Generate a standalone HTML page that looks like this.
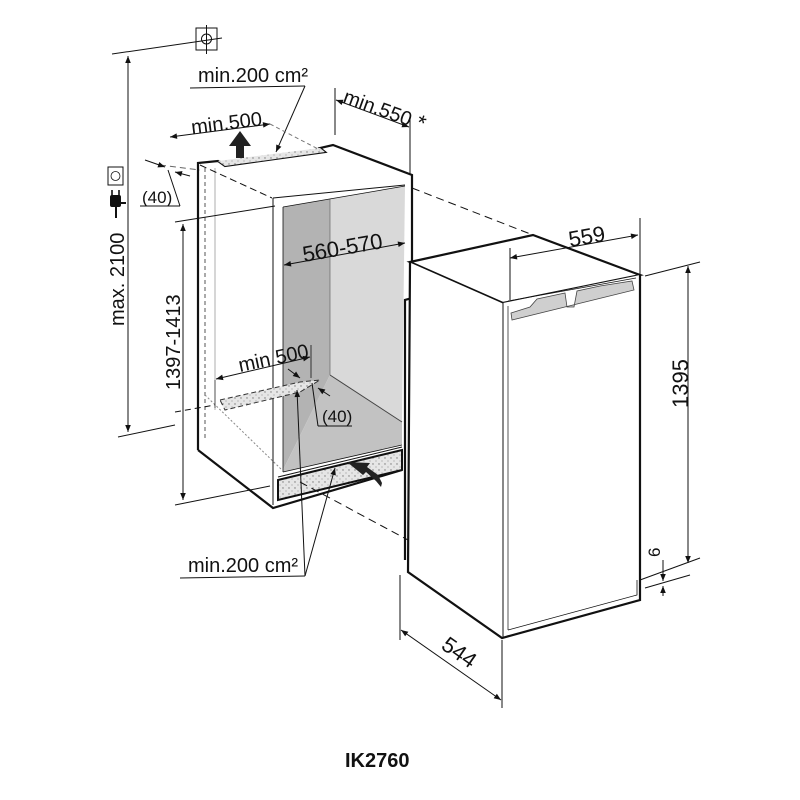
<!DOCTYPE html>
<html><head><meta charset="utf-8"><style>
html,body{margin:0;padding:0;background:#fff}
svg{display:block}
text{font-family:"Liberation Sans",Arial,sans-serif;fill:#111}
</style></head><body>
<svg width="800" height="800" viewBox="0 0 800 800" xmlns="http://www.w3.org/2000/svg">
<defs>
<marker id="a" viewBox="0 0 10 10" refX="10" refY="5" markerWidth="10" markerHeight="7" orient="auto-start-reverse" markerUnits="userSpaceOnUse"><path d="M0,1 L10,5 L0,9 z" fill="#111"/></marker>
<pattern id="dots" width="6" height="6" patternUnits="userSpaceOnUse"><rect width="6" height="6" fill="#e6e6e6"/><circle cx="1" cy="2" r="0.7" fill="#777"/><circle cx="4" cy="5" r="0.6" fill="#999"/></pattern>
</defs>
<g stroke="#111" fill="none" stroke-width="1">
<polygon points="283,207 330,199 330,375 283,470" fill="#b3b3b3" stroke="none"/>
<polygon points="330,199 405,186 402,422 330,375" fill="#d9d9d9" stroke="none"/>
<polygon points="283,470 330,375 402,422 402,445 283,472" fill="#c2c2c2" stroke="none"/>
<line x1="330" y1="199" x2="330" y2="375" stroke="#666" stroke-width="0.7"/>
<line x1="330" y1="375" x2="402" y2="422" stroke="#444"/>
<polyline points="273,198 405,185"/>
<line x1="273" y1="198" x2="273" y2="505"/>
<line x1="283" y1="207" x2="283" y2="472" stroke-width="0.8"/>
<line x1="283" y1="207" x2="405" y2="186" stroke-width="0.7"/>
<line x1="283" y1="472" x2="402" y2="445" stroke-width="0.8"/>
<polyline points="198,450 198,163 218,161 225,166 325,152 320,148 333,145 412,175 412,298 405,300 405,560" stroke-width="2.2"/>
<polygon points="218,161 320,148 325,152 225,166" fill="url(#dots)" stroke="none"/>
<polyline points="198,450 273,508 402,470" stroke-width="2.2"/>
<polygon points="278,480 402,450 402,470 278,500" fill="url(#dots)" stroke-width="2"/>
<line x1="278" y1="477" x2="402" y2="447"/>
<line x1="205" y1="168" x2="205" y2="440" stroke-dasharray="4,3" stroke="#555"/>
<line x1="215" y1="168" x2="215" y2="410" stroke-width="0.6" stroke="#777"/>
<line x1="200" y1="165" x2="272" y2="198" stroke-dasharray="7,4"/>
<line x1="205" y1="395" x2="282" y2="470" stroke-dasharray="2,2" stroke="#888"/>
<polygon points="220,400 300,382 320,380 300,392 225,410" fill="url(#dots)" stroke="#333" stroke-dasharray="5,3"/>
<polygon points="236,158 244,158 244,146 251,146 240,131 229,146 236,146" fill="#222" stroke="none"/>
<polygon points="381,487 376,481 366,472 363,475 347,462 370,463 367,467 378,475 382,483" fill="#222" stroke="none"/>
<line x1="412" y1="188" x2="533" y2="235" stroke-dasharray="8,5"/>
<line x1="300" y1="482" x2="408" y2="540" stroke-dasharray="8,5"/>
<line x1="160" y1="165" x2="200" y2="170" stroke-dasharray="6,4" stroke="#666"/>
<line x1="175" y1="412" x2="215" y2="405" stroke-dasharray="6,4"/>
<polygon points="410,262 533,235 640,275 503,303" fill="#fff" stroke-width="2.2"/>
<polygon points="503,303 640,275 640,600 503,638" fill="#fff" stroke="none"/>
<polygon points="410,262 503,303 503,638 408,572" fill="#fff" stroke="none"/>
<polyline points="410,262 408,572 502,638 640,600 640,275" stroke-width="2.2"/>
<line x1="410" y1="262" x2="503" y2="303"/>
<line x1="503" y1="303" x2="503" y2="638"/>
<line x1="508" y1="306" x2="508" y2="630" stroke-width="0.7"/>
<polyline points="508,630 637,595 637,580" stroke-width="0.8"/>
<polygon points="511,313 530,307 537,299 565,293 567,307 574,307 577,291 600,286 632,281 634,290 512,320" fill="#cfcfcf" stroke="#444" stroke-width="0.8"/>
<line x1="508" y1="301" x2="636" y2="278" stroke-width="0.8"/>
<line x1="510" y1="248" x2="510" y2="300"/>
<line x1="640" y1="218" x2="640" y2="275"/>
<line x1="510" y1="258" x2="638" y2="235" marker-start="url(#a)" marker-end="url(#a)"/>
<line x1="645" y1="276" x2="700" y2="262"/>
<line x1="640" y1="580" x2="700" y2="558"/>
<line x1="688" y1="266" x2="688" y2="563" marker-start="url(#a)" marker-end="url(#a)"/>
<line x1="645" y1="588" x2="690" y2="575"/>
<line x1="663" y1="560" x2="663" y2="581" marker-end="url(#a)"/>
<line x1="663" y1="596" x2="663" y2="586" marker-end="url(#a)"/>
<line x1="400" y1="575" x2="400" y2="640"/>
<line x1="502" y1="640" x2="502" y2="708"/>
<line x1="401" y1="630" x2="501" y2="700" marker-start="url(#a)" marker-end="url(#a)"/>
<line x1="112" y1="54" x2="222" y2="38"/>
<line x1="128" y1="56" x2="128" y2="432" marker-start="url(#a)" marker-end="url(#a)"/>
<line x1="118" y1="437" x2="175" y2="425"/>
<rect x="196" y="28" width="21" height="22"/>
<circle cx="206.5" cy="39" r="5"/>
<line x1="206.5" y1="25" x2="206.5" y2="54"/>
<rect x="108" y="167" width="15" height="18"/>
<circle cx="115.5" cy="176" r="4.5" stroke-width="0.8"/>
<line x1="116" y1="203" x2="116" y2="218" stroke-width="2"/>
<line x1="116" y1="203" x2="126" y2="203" stroke-width="2"/>
<rect x="110" y="195" width="11" height="12" rx="2" fill="#111" stroke="none"/>
<line x1="112" y1="190" x2="112" y2="196" stroke-width="1.6"/>
<line x1="119" y1="190" x2="119" y2="196" stroke-width="1.6"/>
<line x1="175" y1="222" x2="275" y2="206"/>
<line x1="175" y1="505" x2="270" y2="486"/>
<line x1="183" y1="224" x2="183" y2="500" marker-start="url(#a)" marker-end="url(#a)"/>
<line x1="335" y1="88" x2="335" y2="135"/>
<line x1="410" y1="118" x2="410" y2="175"/>
<line x1="336" y1="100" x2="409" y2="127" marker-start="url(#a)" marker-end="url(#a)"/>
<line x1="190" y1="88" x2="305" y2="86"/>
<line x1="305" y1="86" x2="276" y2="152" marker-end="url(#a)"/>
<line x1="170" y1="137" x2="270" y2="124" marker-start="url(#a)" marker-end="url(#a)"/>
<line x1="270" y1="124" x2="320" y2="150" stroke-dasharray="4,3" stroke="#777"/>
<line x1="145" y1="160" x2="165" y2="167" marker-end="url(#a)"/>
<line x1="190" y1="176" x2="175" y2="172" marker-end="url(#a)"/>
<line x1="140" y1="206" x2="180" y2="206"/>
<line x1="180" y1="206" x2="168" y2="170"/>
<line x1="284" y1="265" x2="405" y2="243" marker-start="url(#a)" marker-end="url(#a)"/>
<line x1="215" y1="380" x2="215" y2="408" stroke-width="0.6"/>
<line x1="311" y1="345" x2="311" y2="378" stroke-width="0.8"/>
<line x1="216" y1="379" x2="310" y2="357" marker-start="url(#a)" marker-end="url(#a)"/>
<line x1="288" y1="369" x2="300" y2="378" marker-end="url(#a)"/>
<line x1="330" y1="396" x2="318" y2="388" marker-end="url(#a)"/>
<line x1="312" y1="383" x2="318" y2="426"/>
<line x1="318" y1="426" x2="352" y2="426"/>
<line x1="180" y1="578" x2="305" y2="576"/>
<line x1="305" y1="576" x2="297" y2="390" marker-end="url(#a)"/>
<line x1="305" y1="576" x2="335" y2="468" marker-end="url(#a)"/>
</g>
<g font-size="20">
<text x="198" y="82">min.200 cm²</text>
<text x="192" y="134" transform="rotate(-7 192 134)">min.500</text>
<text x="342" y="102" transform="rotate(20 342 102)">min.550<tspan font-size="22"> *</tspan></text>
<text x="142" y="203" font-size="17">(40)</text>
<text x="304" y="262" font-size="22" transform="rotate(-10 304 262)">560-570</text>
<text x="240" y="372" transform="rotate(-12 240 372)">min 500</text>
<text x="322" y="422" font-size="17">(40)</text>
<text x="188" y="572">min.200 cm²</text>
<text x="570" y="247" font-size="22" transform="rotate(-10 570 247)">559</text>
<text x="688" y="408" font-size="22" transform="rotate(-90 688 408)">1395</text>
<text x="660" y="557" font-size="17" transform="rotate(-90 660 557)">6</text>
<text x="440" y="648" font-size="22" transform="rotate(35 440 648)">544</text>
<text x="124" y="326" transform="rotate(-90 124 326)">max. 2100</text>
<text x="180" y="390" transform="rotate(-90 180 390)">1397-1413</text>
<text x="345" y="767" font-weight="bold" font-size="20">IK2760</text>
</g>
</svg>
</body></html>
